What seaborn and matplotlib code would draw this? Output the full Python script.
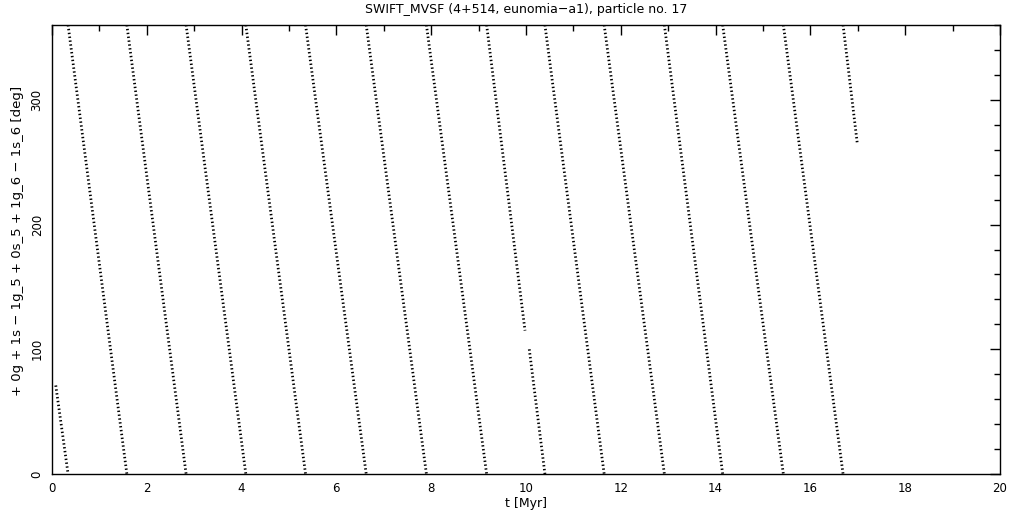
import numpy as np
import pandas as pd
import matplotlib
matplotlib.use("Agg")
import matplotlib.pyplot as plt
import seaborn as sns
from matplotlib.ticker import MultipleLocator

# times [Myr] where the resonant angle wraps from 0 back to 360 deg
wrap_times = [0.34, 1.58, 2.83, 4.09, 5.35, 6.63, 7.90, 9.17, 10.40,
              11.65, 12.92, 14.15, 15.43, 16.69]
# first partial branch and the end of the integration
start_t, start_angle = 0.08, 71.0
end_t, end_angle = 16.99, 265.0
# short break in the branch near t = 10 Myr
gap_t = [9.98, 10.07]
gap_angle = [115.0, 100.0]

title = "SWIFT_MVSF (4+514, eunomia\u2212a1), particle no. 17"
ylabel = "+ 0g + 1s \u2212 1g_5 + 0s_5 + 1g_6 \u2212 1s_6 [deg]"
xlabel = "t [Myr]"

# assemble the branches (angle decreasing from 360 to 0)
rows = []
seg = 0
rows += [(start_t, start_angle, seg), (wrap_times[0], 0.0, seg)]
for k in range(len(wrap_times) - 1):
    seg += 1
    t0, t1 = wrap_times[k], wrap_times[k + 1]
    if t0 < gap_t[0] < t1:
        rows += [(t0, 360.0, seg), (gap_t[0], gap_angle[0], seg)]
        seg += 1
        rows += [(gap_t[1], gap_angle[1], seg), (t1, 0.0, seg)]
    else:
        rows += [(t0, 360.0, seg), (t1, 0.0, seg)]
seg += 1
rows += [(wrap_times[-1], 360.0, seg), (end_t, end_angle, seg)]
df = pd.DataFrame(rows, columns=["t", "angle", "segment"])

sns.set_style("white")
plt.rcParams["font.family"] = ["DejaVu Sans"]
plt.rcParams["text.color"] = "black"
plt.rcParams["axes.labelcolor"] = "black"

fig = plt.figure(figsize=(10.21, 5.11), dpi=100)
ax = fig.add_axes([0.0509, 0.0724, 0.9285, 0.8786])
sns.lineplot(data=df, x="t", y="angle", units="segment", estimator=None,
             color="black", linewidth=2.0, linestyle=(0, (0.5, 0.9)), ax=ax)

ax.set_xlim(0, 20)
ax.set_ylim(0, 360)
ax.xaxis.set_major_locator(MultipleLocator(2))
ax.xaxis.set_minor_locator(MultipleLocator(1))
ax.yaxis.set_major_locator(MultipleLocator(100))
ax.yaxis.set_minor_locator(MultipleLocator(20))
ax.tick_params(which="both", direction="in", top=True, right=True,
               color="black", width=1, labelsize=8.5, labelcolor="black")
ax.tick_params(which="major", length=7, pad=6)
ax.tick_params(which="minor", length=4)
for lab in ax.get_yticklabels():
    lab.set_rotation(90)
    lab.set_va("center")
for sp in ax.spines.values():
    sp.set_color("black")
    sp.set_linewidth(1)

ax.set_title(title, fontsize=9, pad=9, color="black")
ax.set_xlabel(xlabel, fontsize=9, va="center")
ax.xaxis.set_label_coords(0.5, -0.0646)
ax.set_ylabel(ylabel, fontsize=9.5, va="center")
ax.yaxis.set_label_coords(-0.036, 0.52)

fig.savefig("out.png", dpi=100, facecolor="white")
